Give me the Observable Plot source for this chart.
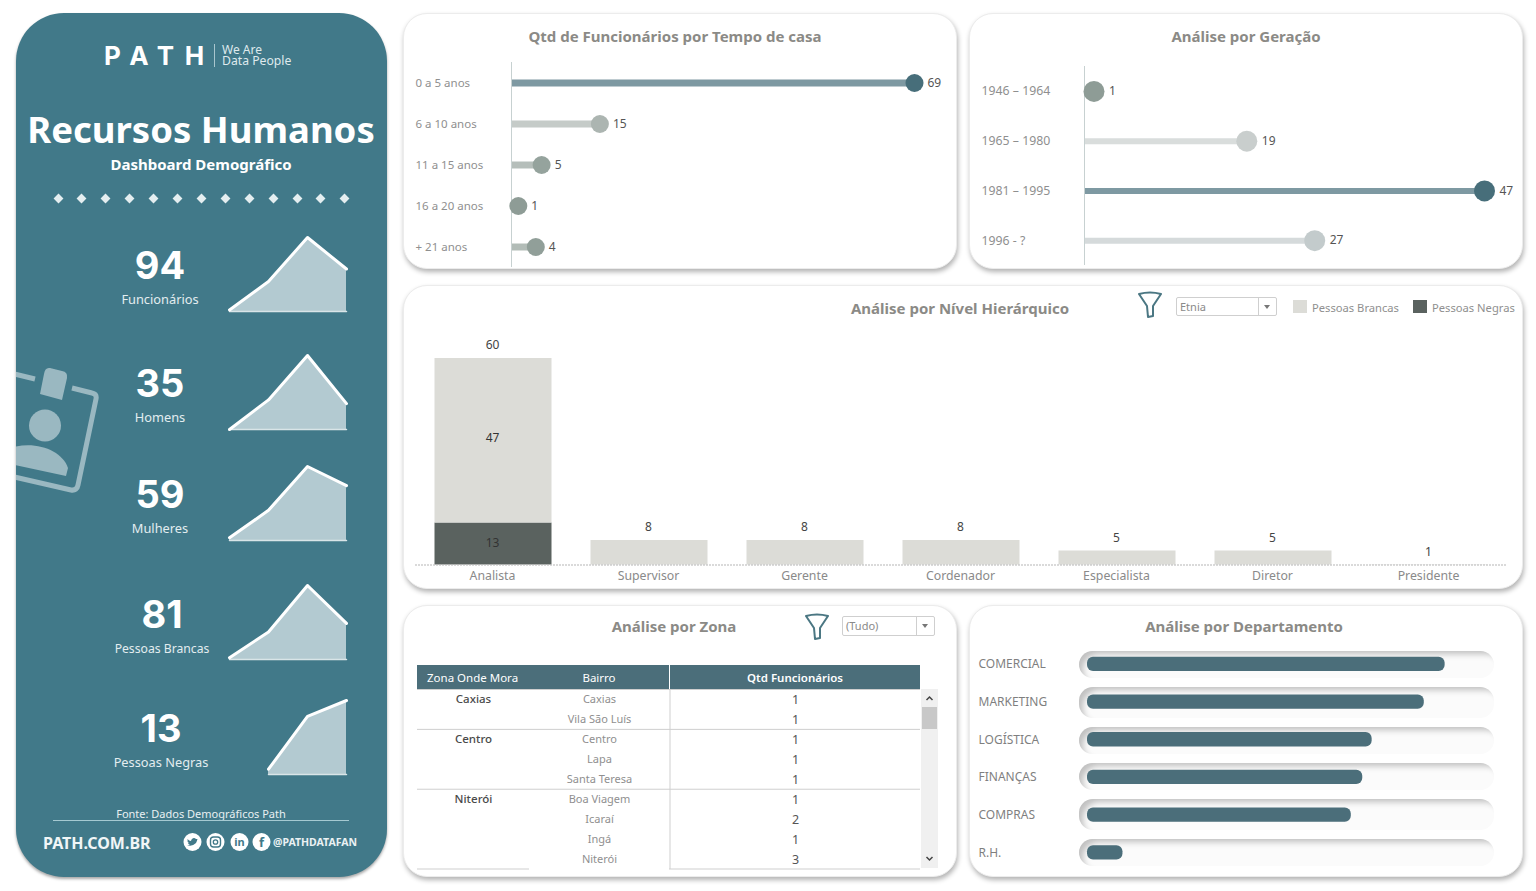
<!DOCTYPE html>
<html lang="pt-BR">
<head>
<meta charset="utf-8">
<title>Recursos Humanos</title>
<script src="https://cdn.jsdelivr.net/npm/d3@7"></script>
<script src="https://cdn.jsdelivr.net/npm/@observablehq/plot@0.6"></script>
<style>
html,body{margin:0;padding:0;background:#fff;width:1536px;height:891px;overflow:hidden;font-family:"Noto Sans",sans-serif}
#page{position:relative;width:1536px;height:891px;overflow:hidden}
.abs{position:absolute}
.panel{position:absolute;background:#fff;border-radius:24px;border:1.5px solid #ececec;box-sizing:border-box;box-shadow:1px 3px 5px rgba(0,0,0,.3)}
.title{position:absolute;transform:translate(-50%,-50%);font-weight:700;font-size:15px;color:#8b8a86;white-space:nowrap}
.side{position:absolute;left:16px;top:13px;width:371px;height:864px;background:#417989;border-radius:48px;box-shadow:0 2px 3px rgba(0,0,0,.35);overflow:hidden}
.ct{position:absolute;transform:translate(-50%,-50%);white-space:nowrap;text-align:center}
.num{font-family:Inter,sans-serif;font-weight:700;font-size:38px;color:#fff}
.lab{font-size:12.8px;color:#e3edf0}
.dia{position:absolute;width:7px;height:7px;background:#e4eef0;transform:rotate(45deg)}
.drop{position:absolute;box-sizing:border-box;border:1px solid #cfcfcf;border-radius:2px;font-size:11px;color:#8a8a8a;padding:2px 3px;background:#fff;line-height:14px}
.drop i{position:absolute;right:0;top:0;bottom:0;width:17px;border-left:1px solid #cfcfcf}
.drop i:after{content:"";position:absolute;left:5px;top:7px;border:3.5px solid transparent;border-top:4px solid #777}
.track{position:absolute;left:1079px;width:415px;border-radius:14px;background:#fbfbfb;box-shadow:inset 6px 5px 6px -2px rgba(0,0,0,.24)}
.head{position:absolute;top:665px;height:24px;line-height:25px;background:#4b6e7a;color:#fff;font-size:11.5px;text-align:center}
</style>
</head>
<body>
<div id="page"></div>
<script>
// ---- data ----
const tempoCasa = ["0 a 5 anos", "6 a 10 anos", "11 a 15 anos", "16 a 20 anos", "+ 21 anos"];
const tempoQtd = [69, 15, 5, 1, 4];
const tempoCores = ["#476e7a", "#acb5b1", "#95a39d", "#8e9c96", "#919f99"];
const geracoes = ["1946 – 1964", "1965 – 1980", "1981 – 1995", "1996 - ?"];
const geracaoQtd = [1, 19, 47, 27];
const geracaoCores = ["#8e9c96", "#c9cecd", "#476e7a", "#c3cbcc"];
const niveis = ["Analista", "Supervisor", "Gerente", "Cordenador", "Especialista", "Diretor", "Presidente"];
const nivelBrancas = [47, 8, 8, 8, 5, 5, 1];
const nivelNegras = [13, 0, 0, 0, 0, 0, 0];
const departamentos = ["COMERCIAL", "MARKETING", "LOGÍSTICA", "FINANÇAS", "COMPRAS", "R.H."];
const departamentoValor = [34.3, 32.3, 27.3, 26.4, 25.3, 3.4];
const departamentoMax = 39.8;
const zonas = ["Caxias", "", "Centro", "", "", "Niterói", "", "", ""];
const bairros = ["Caxias", "Vila São Luís", "Centro", "Lapa", "Santa Teresa", "Boa Viagem", "Icaraí", "Ingá", "Niterói"];
const bairroQtd = [1, 1, 1, 1, 1, 1, 2, 1, 3];
const kpiNumeros = [94, 35, 59, 81, 13];
const kpiRotulos = ["Funcionários", "Homens", "Mulheres", "Pessoas Brancas", "Pessoas Negras"];
const sparkFuncionarios = [1, 19, 47, 27];
const sparkHomens = [0, 8, 20, 7];
const sparkMulheres = [1, 11, 27, 20];
const sparkBrancas = [1, 16, 43, 21];
const sparkNegras = [null, 0.5, 5.5, 7];

// ---- helpers ----
const page = document.getElementById("page");
const FONT = '"Noto Sans",sans-serif';
function add(html){ const t=document.createElement("div"); t.innerHTML=html; while(t.firstChild) page.appendChild(t.firstChild); }
function place(svg,left,top){ svg.style.position="absolute"; svg.style.left=left+"px"; svg.style.top=top+"px"; svg.style.background="transparent"; svg.style.overflow="visible"; page.appendChild(svg); return svg; }

// ---- panels ----
add(`<div class="panel" style="left:403px;top:13px;width:554px;height:256px"></div>
<div class="panel" style="left:969px;top:13px;width:554px;height:256px"></div>
<div class="panel" style="left:403px;top:285px;width:1120px;height:304px"></div>
<div class="panel" style="left:403px;top:605px;width:554px;height:272px"></div>
<div class="panel" style="left:969px;top:605px;width:554px;height:272px"></div>
<div class="title" style="left:675px;top:36px">Qtd de Funcionários por Tempo de casa</div>
<div class="title" style="left:1246px;top:36px">Análise por Geração</div>
<div class="title" style="left:960px;top:308px">Análise por Nível Hierárquico</div>
<div class="title" style="left:674px;top:626px">Análise por Zona</div>
<div class="title" style="left:1244px;top:626px">Análise por Departamento</div>`);

// ---- sidebar ----
let diamonds="";
d3.range(13).forEach(i=>{diamonds+=`<div class="dia" style="left:${38.5+i*23.9}px;top:182px"></div>`});
add(`<div class="side">
<svg class="abs" style="left:-16px;top:-13px" width="400" height="900">
 <g fill="none" stroke="#9ab8c1" stroke-width="5" stroke-linejoin="round" stroke-linecap="butt">
  <path d="M10,373 L35,379"/><path d="M72,388 L92,393 Q97,394 96,399 L78,485 Q77,491 71,490 L10,476"/>
 </g>
 <path d="M50,368 L62,371 Q68,372 67,378 L62,400 L40,394 L44,374 Q45,367 50,368Z" fill="#9ab8c1"/>
 <circle cx="45" cy="425.500" r="16" fill="#9ab8c1"/>
 <path d="M10,448 C35,440 62,450 68,468 L66,476 L10,464Z" fill="#9ab8c1"/>
</svg>
<div class="abs" style="left:88px;top:28px;font-family:Inter,sans-serif;font-weight:700;font-size:26px;letter-spacing:10.5px;color:#fff;line-height:30px">PATH</div>
<div class="abs" style="left:198px;top:31px;width:1px;height:23px;background:#a9c6ce"></div>
<div class="abs" style="left:206px;top:31px;font-size:12px;line-height:11px;color:#dfeaed">We Are</div>
<div class="abs" style="left:206px;top:42px;font-size:12.2px;line-height:11px;color:#dfeaed">Data People</div>
<div class="ct" style="left:185px;top:115.500px;font-size:36.500px;font-weight:700;color:#fff">Recursos Humanos</div>
<div class="ct" style="left:185px;top:151px;font-size:15px;font-weight:700;color:#fff">Dashboard Demográfico</div>
${diamonds}
<div class="ct" style="left:185px;top:799.500px;font-size:11px;color:#e8f0f2">Fonte: Dados Demográficos Path</div>
<div class="abs" style="left:37px;top:807px;width:296px;height:1px;background:#a5c9d1"></div>
<div class="abs" style="left:27px;top:819px;font-size:16px;font-weight:700;color:#f1f6f7;line-height:22px">PATH.COM.BR</div>
<svg class="abs" style="left:160px;top:818px" width="100" height="24" font-family='"Noto Sans",sans-serif' font-weight="700" text-anchor="middle" fill="#417989">
 <circle cx="16.500" cy="11" r="9" fill="#fff"/><path d="M11,14 Q16,16 20,12 Q21,10 21.500,8 L20,8 Q18,6 16,8 Q15,9 15,10 Q13,10 11.500,8 Q11,11 13,12 L12,12 Q12.500,13.500 14,14Z"/>
 <circle cx="39.500" cy="11" r="9" fill="#fff"/><rect x="34.500" y="6" width="10" height="10" rx="3" fill="none" stroke="#417989" stroke-width="1.400"/><circle cx="39.500" cy="11" r="2.200" fill="none" stroke="#417989" stroke-width="1.300"/>
 <circle cx="63.500" cy="11" r="9" fill="#fff"/><text x="63.500" y="15" font-size="11">in</text>
 <circle cx="85.500" cy="11" r="9" fill="#fff"/><text x="85.500" y="16" font-size="13">f</text>
</svg>
<div class="abs" style="left:257px;top:821px;font-size:10.500px;font-weight:700;color:#eaf1f3;line-height:16px">@PATHDATAFAN</div>
</div>`);

// ---- KPI numbers ----
const kpiPos = [[160,265,299],[160,383,417],[160,494,528],[162,614,648],[161,728,762]];
kpiNumeros.forEach((n,i)=>{
  const [x,y1,y2]=kpiPos[i];
  add(`<div class="ct num" style="left:${x}px;top:${y1}px">${n}</div><div class="ct lab" style="left:${x}px;top:${y2}px${i===3?";font-size:12.2px":""}">${kpiRotulos[i]}</div>`);
});

// ---- sparklines ----
const sparks=[[sparkFuncionarios,237],[sparkHomens,355],[sparkMulheres,466],[sparkBrancas,585],[sparkNegras,700]];
sparks.forEach(([vals,top])=>{
  const rows=geracoes.map((g,i)=>({g,v:vals[i]})).filter(d=>d.v!==null);
  place(Plot.plot({
    width:123,height:79,margin:0,
    x:{type:"point",domain:geracoes,range:[2,121],padding:0,axis:null},
    y:{domain:[0,d3.max(vals)],range:[76,2],axis:null},
    marks:[
      Plot.areaY(rows,{x:"g",y:"v",fill:"#b3cad1"}),
      Plot.lineY(rows,{x:"g",y:()=>0,stroke:"#d9e5e8",strokeWidth:1.5}),
      Plot.lineY(rows,{x:"g",y:"v",stroke:"#fff",strokeWidth:3})
    ]
  }),226,top-2);
});

// ---- lollipops ----
function lollipop({cats,vals,cores,left,top,width,height,marginLeft,marginTop,marginBottom,xDomain,xLen,r,sw,labelPad,dx,axisFont}){
  const rows=cats.map((c,i)=>({c,v:vals[i]}));
  return place(Plot.plot({
    width,height,marginLeft,marginTop,marginBottom,marginRight:0,
    style:{fontFamily:FONT,fontSize:"11.5px"},
    x:{domain:[0,xDomain],range:[marginLeft,marginLeft+xLen],axis:null},
    y:{type:"band",domain:cats,padding:0,round:false,axis:null},
    color:{domain:cats,range:cores},
    marks:[
      Plot.axisY({domain:cats,tickSize:0,tickPadding:labelPad,textAnchor:"start",color:"#8f8f8f",label:null,fontSize:axisFont}),
      Plot.ruleY(rows,{y:"c",x1:()=>0,x2:"v",stroke:"c",strokeWidth:sw,strokeOpacity:.7,dx:-1}),
      Plot.ruleX([0],{stroke:"#c7d1d1",strokeWidth:1,dx:-1}),
      Plot.dot(rows,{y:"c",x:"v",fill:"c",r}),
      Plot.text(rows,{y:"c",x:"v",text:d=>String(d.v),dx,textAnchor:"start",fill:"#555",fontSize:12})
    ]
  }),left,top);
}
lollipop({cats:tempoCasa,vals:tempoQtd,cores:tempoCores,left:403,top:13,width:554,height:256,marginLeft:109,marginTop:49,marginBottom:2,xDomain:69,xLen:402,r:9,sw:7,labelPad:97,dx:13,axisFont:11.5});
lollipop({cats:geracoes,vals:geracaoQtd,cores:geracaoCores,left:969,top:13,width:554,height:256,marginLeft:116,marginTop:53,marginBottom:4,xDomain:47,xLen:399,r:10.5,sw:6,labelPad:104,dx:15,axisFont:12.3});

// ---- nível hierárquico ----
const nivelLong=[
  ...niveis.map((n,i)=>({n,serie:"Pessoas Negras",v:nivelNegras[i]})),
  ...niveis.map((n,i)=>({n,serie:"Pessoas Brancas",v:nivelBrancas[i]}))
].filter(d=>d.v>0);
const nivelTotal=niveis.map((n,i)=>({n,v:nivelBrancas[i]+nivelNegras[i]}));
const ordemSerie=["Pessoas Negras","Pessoas Brancas"];
const nivelEixoBase=1; // the reference's baseline sits at 1: the bar of value 1 has no height
place(Plot.plot({
  width:1092,height:266.5,marginLeft:0,marginRight:0,marginTop:30,marginBottom:30,
  style:{fontFamily:FONT,fontSize:"12.3px"},
  x:{domain:niveis,paddingInner:.25,paddingOuter:.125,round:false,axis:null},
  y:{domain:[nivelEixoBase,60],axis:null},
  color:{domain:["Pessoas Brancas","Pessoas Negras"],range:["#dcdcd7","#5a625f"]},
  marks:[
    Plot.barY(nivelLong,{x:"n",y:"v",fill:"serie",z:"serie",order:ordemSerie,clip:true}),
    Plot.text(nivelLong.filter(d=>d.n==="Analista"),Plot.stackY({x:"n",y:"v",z:"serie",text:d=>String(d.v),order:ordemSerie,fill:"#333",fontSize:12,dx:-1,dy:-3})),
    Plot.text(nivelTotal,{x:"n",y:"v",text:d=>String(d.v),dx:-1,dy:-13,fill:"#444",fontSize:12}),
    Plot.ruleY([nivelEixoBase],{stroke:"#b5b5b5",strokeDasharray:"2 1"}),
    Plot.axisX({domain:niveis,tickSize:0,tickPadding:6,dx:-1,color:"#8a8a8a",label:null})
  ]
}),414.5,328);

add(`<svg class="abs" style="left:1135px;top:290px" width="30" height="30"><path d="M4,4 Q15,1 26,4 L18,16 L18,26 L13,27 L12,16Z" fill="none" stroke="#4b7783" stroke-width="2" stroke-linejoin="round"/></svg>
<div class="drop" style="left:1176px;top:297px;width:101px;height:19px">Etnia<i></i></div>
<div class="abs" style="left:1293px;top:300px;width:14px;height:13px;background:#dcdcd7"></div>
<div class="abs" style="left:1312px;top:299.5px;font-size:11.2px;color:#8f8f8f;line-height:15px">Pessoas Brancas</div>
<div class="abs" style="left:1413px;top:300px;width:14px;height:13px;background:#5a625f"></div>
<div class="abs" style="left:1432px;top:299.5px;font-size:11.2px;color:#8f8f8f;line-height:15px">Pessoas Negras</div>
<svg class="abs" style="left:802px;top:612px" width="30" height="30"><path d="M4,4 Q15,1 26,4 L18,16 L18,26 L13,27 L12,16Z" fill="none" stroke="#4b7783" stroke-width="2" stroke-linejoin="round"/></svg>
<div class="drop" style="left:842px;top:616px;width:93px;height:20px">(Tudo)<i></i></div>`);

// ---- tabela ----
add(`<div class="head" style="left:417px;width:252px;text-align:left"><span style="position:absolute;left:10px">Zona Onde Mora</span><span style="position:absolute;left:182px;transform:translateX(-50%)">Bairro</span></div>
<div class="head" style="left:670px;width:250px;font-weight:600">Qtd Funcionários</div>
<div class="abs" style="left:921px;top:689px;width:17px;height:179px;background:#f0f0f0"></div>
<div class="abs" style="left:922px;top:707px;width:15px;height:22px;background:#c8c8c8"></div>
<svg class="abs" style="left:921px;top:689px" width="17" height="179" fill="none" stroke="#444" stroke-width="1.500"><path d="M5.500,11 L8.500,8 L11.500,11"/><path d="M5.500,168 L8.500,171 L11.500,168"/></svg>`);
const tabela=bairros.map((b,i)=>({i:i+.5,z:zonas[i],b,q:bairroQtd[i]}));
place(Plot.plot({
  width:503,height:180,margin:0,
  style:{fontFamily:FONT},
  x:{domain:[0,503],range:[0,503],axis:null},
  y:{domain:[0,9],range:[0,179.5],axis:null},
  marks:[
    Plot.ruleY([0,2,5],{stroke:"#cfcfcf"}),
    Plot.ruleY([9],{stroke:"#cfcfcf",insetRight:391}),
    Plot.ruleY([9],{stroke:"#cfcfcf",insetLeft:252}),
    Plot.ruleX([252.5],{stroke:"#cfcfcf"}),
    Plot.text(tabela,{y:"i",text:"z",frameAnchor:"left",textAnchor:"middle",dx:56,fill:"#4a4a4a",fontSize:11.5,fontWeight:500}),
    Plot.text(tabela,{y:"i",text:"b",frameAnchor:"left",textAnchor:"middle",dx:182,fill:"#8f8f8f",fontSize:11}),
    Plot.text(tabela,{y:"i",text:d=>String(d.q),frameAnchor:"left",textAnchor:"middle",dx:378,dy:.5,fill:"#555",fontSize:12.5})
  ]
}),417,689);

// ---- departamento ----
const trackFaixas=[[651,27],[687,31],[727,27],[763,27],[799,31],[839,27]];
trackFaixas.forEach(([t,h])=>{
  add(`<div class="track" style="top:${t}px;height:${h}px"></div>`);
});
place(Plot.plot({
  width:554,height:226.2,marginLeft:118,marginRight:0,marginTop:0,marginBottom:0,
  style:{fontFamily:FONT,fontSize:"12px"},
  x:{domain:[0,departamentoMax],range:[118,118+415],axis:null},
  y:{type:"band",domain:departamentos,paddingInner:.62,paddingOuter:.31,round:false,axis:null},
  marks:[
    Plot.axisY({domain:departamentos,tickSize:0,tickPadding:109,textAnchor:"start",color:"#7f7f7f",label:null}),
    Plot.barX(departamentos.map((d,i)=>({d,v:departamentoValor[i]})),{y:"d",x:"v",fill:"#4b6e7a",rx:6})
  ]
}),969,645);
</script>
</body>
</html>
